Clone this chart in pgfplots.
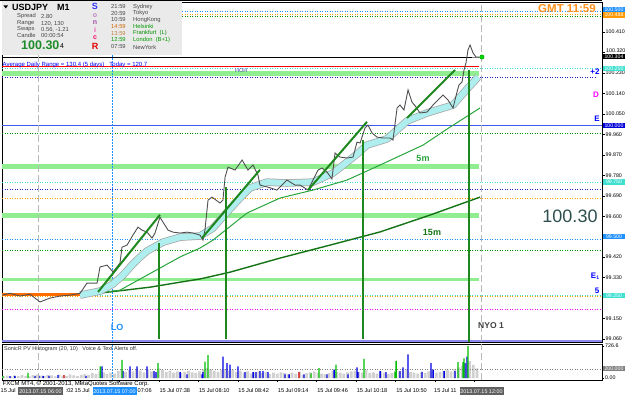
\documentclass[border=0pt]{standalone}
\usepackage{fontspec}
\setmainfont{Liberation Sans}
\usepackage{pgfplots}
\pgfplotsset{compat=1.18}
\definecolor{lgreen}{RGB}{144,238,144}
\definecolor{mgreen}{RGB}{40,165,60}
\definecolor{dgreen}{RGB}{20,115,20}
\definecolor{tgreen}{RGB}{30,135,30}
\definecolor{pcyan}{RGB}{175,238,238}
\definecolor{turq}{RGB}{64,224,208}
\definecolor{dodger}{RGB}{30,144,255}
\definecolor{royal}{RGB}{65,90,235}
\definecolor{navyb}{RGB}{30,30,200}
\definecolor{lav}{RGB}{140,140,240}
\definecolor{orng}{RGB}{255,165,0}
\definecolor{magen}{RGB}{255,0,255}
\definecolor{pricegr}{RGB}{80,80,80}
\definecolor{histgr}{RGB}{208,208,208}
\definecolor{panelgr}{RGB}{234,234,234}
\definecolor{gmtor}{RGB}{255,145,30}
\definecolor{bigsl}{RGB}{47,79,79}
\definecolor{pgreen}{RGB}{30,140,40}
\definecolor{txtgr}{RGB}{70,70,70}
\newcommand{\fs}[1]{\fontsize{#1}{#1}\selectfont}
\tikzset{dotlev/.style={line width=0.9pt, dash pattern=on 1.2pt off 1.3pt}}
\begin{document}
\begin{tikzpicture}
\path[use as bounding box] (0pt,0pt) rectangle (625pt,398pt);
\fill[white] (0pt,0pt) rectangle (625pt,398pt);
% ================= main price panel =================
\begin{axis}[
  at={(2pt,56pt)}, anchor=south west, scale only axis,
  width=600pt, height=340pt,
  xmin=-29.2, xmax=457.4, ymin=99.047, ymax=100.542,
  clip mode=individual,
  axis line style={black, line width=0.7pt},
  xtick=\empty,
  ytick={99.06,99.15,99.33,99.42,99.60,99.69,99.78,99.87,99.96,100.05,100.14,100.23,100.41},
  extra y ticks={100.32}, extra y tick labels={},
  ytick pos=right, yticklabel pos=right,
  tick align=outside, major tick length=2.5pt, tick style={black, line width=0.5pt},
  yticklabel style={font=\fs{5.3}, inner sep=1pt, /pgf/number format/.cd, fixed, fixed zerofill, precision=3, assume math mode=true},
]
% light green bands
\addplot[lgreen, line width=5pt] coordinates {(-29.2,100.227) (358,100.227)};
\addplot[lgreen, line width=5pt] coordinates {(-29.2,99.818) (358,99.818)};
\addplot[lgreen, line width=5pt] coordinates {(-29.2,99.605) (358,99.605)};
\addplot[lgreen, line width=3pt] coordinates {(-29.2,99.321) (358,99.321)};
% dotted levels
\addplot[dodger, dotlev] coordinates {(-29.2,100.500) (457.4,100.500)};
\addplot[orng, dotlev] coordinates {(-29.2,100.489) (457.4,100.489)};
\addplot[green!60!black, dotlev] coordinates {(-29.2,100.479) (457.4,100.479)};
\addplot[turq, dotlev] coordinates {(-29.2,100.250) (457.4,100.250)};
\addplot[navyb, dotlev] coordinates {(-29.2,100.212) (452,100.212)};
\addplot[green!60!black, dotlev] coordinates {(-29.2,99.964) (457.4,99.964)};
\addplot[turq, dotlev] coordinates {(-29.2,99.750) (457.4,99.750)};
\addplot[navyb, dotlev] coordinates {(-29.2,99.718) (457.4,99.718)};
\addplot[orng, dotlev] coordinates {(-29.2,99.679) (457.4,99.679)};
\addplot[dodger, dotlev] coordinates {(-29.2,99.497) (457.4,99.497)};
\addplot[green!60!black, dotlev] coordinates {(-29.2,99.451) (457.4,99.451)};
\addplot[orng, dotlev] coordinates {(-29.2,99.246) (457.4,99.246)};
\addplot[turq, dotlev] coordinates {(-29.2,99.251) (457.4,99.251)};
\addplot[magen, dotlev] coordinates {(-29.2,99.188) (457.4,99.188)};
% solid levels
\addplot[red, line width=1pt] coordinates {(-29.2,100.259) (358,100.259)};
\addplot[royal, line width=1pt] coordinates {(-29.2,100.000) (457.4,100.000)};
\addplot[lav, line width=2pt] coordinates {(-29.2,99.053) (457.4,99.053)};
% bid line
\addplot[black, line width=0.8pt] coordinates {(-29.2,100.300) (352,100.300)};
\addplot[gray, line width=0.8pt] coordinates {(352,100.300) (361,100.300)};
% session verticals
\addplot[gray!55, line width=1pt, dash pattern=on 7pt off 3pt] coordinates {(0,99.047) (0,100.542)};
\addplot[gray!55, line width=1pt, dash pattern=on 7pt off 3pt] coordinates {(360,99.047) (360,100.542)};
\addplot[dodger, line width=0.8pt, dash pattern=on 1.5pt off 1.5pt] coordinates {(60,99.047) (60,100.542)};
% 15m MA
\addplot[dgreen, line width=1.4pt] coordinates {(34.1,99.253) (50.3,99.262) (90.8,99.288) (115.2,99.310) (131.4,99.324) (155.7,99.354) (196.3,99.416) (236.8,99.473) (277.4,99.531) (317.9,99.605) (358.5,99.684)};
% 5m MA
\addplot[mgreen, line width=1pt] coordinates {(34.1,99.253) (66.5,99.275) (98.9,99.372) (115.2,99.421) (131.4,99.460) (141.9,99.495) (169.5,99.614) (196.3,99.680) (223.0,99.715) (250.6,99.759) (277.4,99.825) (312.3,99.913) (334.2,99.992) (358.5,100.076)};
% flat band at left
\addplot[orange!85!red, line width=2.5pt] coordinates {(-29.2,99.255) (34.1,99.255)};
% cyan dragon band
\addplot[gray!70, line width=7.5pt, line join=round] coordinates {(34.1,99.253) (50.3,99.271) (60.8,99.302) (68.9,99.341) (77.0,99.390) (82.7,99.420) (88.4,99.447) (101.4,99.486) (115.2,99.508) (131.4,99.513) (141.9,99.548) (153.3,99.618) (163.8,99.680) (171.9,99.724) (185.7,99.750) (201.9,99.746) (223.0,99.750) (239.3,99.790) (258.7,99.873) (266.8,99.913) (283.0,99.940) (299.3,100.019) (315.5,100.054) (336.6,100.089) (347.9,100.159) (356.9,100.212)};
\addplot[pcyan, line width=6pt, line join=round] coordinates {(34.1,99.253) (50.3,99.271) (60.8,99.302) (68.9,99.341) (77.0,99.390) (82.7,99.420) (88.4,99.447) (101.4,99.486) (115.2,99.508) (131.4,99.513) (141.9,99.548) (153.3,99.618) (163.8,99.680) (171.9,99.724) (185.7,99.750) (201.9,99.746) (223.0,99.750) (239.3,99.790) (258.7,99.873) (266.8,99.913) (283.0,99.940) (299.3,100.019) (315.5,100.054) (336.6,100.089) (347.9,100.159) (356.9,100.212)};
% price
\addplot[pricegr, line width=0.9pt] coordinates {(-29.2,99.253) (-22.7,99.261) (-14.6,99.249) (-6.5,99.257) (1.6,99.223) (9.7,99.240) (17.8,99.249) (26.0,99.253) (34.1,99.261) (39.7,99.306) (47.9,99.306) (50.3,99.377) (56.0,99.385) (60.8,99.355) (66.5,99.394) (68.1,99.464) (72.2,99.473) (77.0,99.517) (81.1,99.552) (84.3,99.539) (88.4,99.530) (92.5,99.504) (94.9,99.526) (98.9,99.596) (101.4,99.574) (105.4,99.539) (109.5,99.530) (115.2,99.526) (120.8,99.530) (125.7,99.526) (131.4,99.517) (133.8,99.495) (135.4,99.539) (137.9,99.671) (141.1,99.684) (147.6,99.658) (150.0,99.671) (151.7,99.772) (154.1,99.816) (159.8,99.803) (165.5,99.847) (170.3,99.803) (174.4,99.825) (178.4,99.781) (180.0,99.737) (186.5,99.728) (193.8,99.715) (201.9,99.759) (208.4,99.737) (212.5,99.737) (219.0,99.715) (227.1,99.803) (230.3,99.812) (234.4,99.794) (238.4,99.764) (240.9,99.878) (244.9,99.860) (250.6,99.856) (255.5,99.860) (258.7,99.926) (261.2,99.922) (265.2,99.988) (267.6,100.001) (270.9,99.966) (274.9,99.948) (279.8,99.944) (285.5,99.944) (287.9,99.935) (291.2,100.076) (293.6,100.089) (296.8,100.067) (300.1,100.155) (303.3,100.102) (306.6,100.080) (309.8,100.054) (315.5,100.058) (320.4,100.089) (324.4,100.111) (328.5,100.133) (332.5,100.111) (336.6,100.076) (339.8,100.146) (341.4,100.177) (343.9,100.190) (345.5,100.243) (347.1,100.274) (348.7,100.331) (350.4,100.353) (352.8,100.318) (355.2,100.300) (357.7,100.300)};
% trend lines
\addplot[tgreen, line width=2pt] coordinates {(48.7,99.267) (98.9,99.606)};
\addplot[tgreen, line width=2pt] coordinates {(133.0,99.504) (180.0,99.804)};
\addplot[tgreen, line width=2pt] coordinates {(219.0,99.715) (266.8,100.015)};
\addplot[tgreen, line width=2pt] coordinates {(299.3,100.032) (338.2,100.243)};
% vertical markers
\addplot[tgreen, line width=2pt] coordinates {(98.1,99.482) (98.1,99.060)};
\addplot[tgreen, line width=2pt] coordinates {(152.5,99.728) (152.5,99.060)};
\addplot[tgreen, line width=2pt] coordinates {(263.6,99.935) (263.6,99.060)};
\addplot[tgreen, line width=2pt] coordinates {(349.6,100.243) (349.6,99.047)};
% current price dot
\addplot[only marks, mark=*, mark size=2.2pt, mark options={fill=green!85!black, draw=green!60!black}] coordinates {(360,100.300)};
\end{axis}
% ================= histogram panel =================
\begin{axis}[
  at={(2pt,18pt)}, anchor=south west, scale only axis,
  width=600pt, height=36pt,
  xmin=-29.2, xmax=457.4, ymin=-44, ymax=770,
  clip mode=individual,
  axis line style={black, line width=0.7pt},
  xtick={2,34,66,98,130,162,194,226,258,290,322,354},
  xticklabels={,,,15 Jul 07:38,15 Jul 08:10,15 Jul 08:42,15 Jul 09:14,15 Jul 09:46,15 Jul 10:18,15 Jul 10:50,,},
  xtick pos=bottom,
  xticklabel style={anchor=north west, font=\fs{5.6}, inner sep=0pt, yshift=-6pt, xshift=0.5pt},
  ytick={0,726.6}, yticklabels={0.00,726.6},
  ytick pos=right, yticklabel pos=right,
  yticklabel style={font=\fs{5.3}, inner sep=1pt},
  tick align=outside, major tick length=2pt, tick style={black, line width=0.5pt},
]
\addplot[ybar, bar width=2.8pt, bar shift=0pt, fill=histgr, draw=none] coordinates {
(-28,40) (-25,55) (-22,35) (-19,60) (-16,45) (-13,70) (-10,50) (-7,40) (-4,65) (-1,80) (2,55) (5,45) (8,70) (11,60) (14,40) (17,75) (20,55) (23,50) (26,85) (29,60) (32,45) (35,70) (38,90) (41,65) (44,110) (47,95) (50,150) (53,130) (56,90) (59,120) (62,100) (65,160) (68,200) (71,140) (74,180) (77,150) (80,210) (83,170) (86,130) (89,190) (92,150) (95,120) (98,220) (101,180) (104,140) (107,170) (110,120) (113,150) (116,110) (119,140) (122,160) (125,130) (128,110) (131,150) (134,200) (137,230) (140,190) (143,160) (146,140) (149,180) (152,210) (155,170) (158,190) (161,140) (164,160) (167,120) (170,150) (173,100) (176,130) (179,150) (182,110) (185,140) (188,90) (191,120) (194,100) (197,130) (200,110) (203,90) (206,120) (209,100) (212,140) (215,80) (218,110) (221,130) (224,150) (227,120) (230,100) (233,90) (236,110) (239,160) (242,140) (245,120) (248,100) (251,130) (254,150) (257,170) (260,140) (263,120) (266,180) (269,110) (272,130) (275,100) (278,150) (281,120) (284,90) (287,110) (290,160) (293,150) (296,170) (299,200) (302,140) (305,120) (308,100) (311,130) (314,110) (317,150) (320,170) (323,120) (326,140) (329,160) (332,190) (335,150) (338,210) (341,240) (344,280) (347,330) (350,380) (353,300) (356,220)};
\addplot[gray, line width=0.6pt, dash pattern=on 1pt off 1.5pt] coordinates {(-29.2,200) (457.4,200)};
\addplot[ybar, bar width=1.4pt, bar shift=0pt, fill=blue!90!black, draw=none] coordinates {
(-22.7,44) (-18.7,44) (-2.4,44) (0.8,51) (4.1,51) (8.9,51) (16.2,66) (38.9,44) (51.9,264) (68.9,154) (74.6,264) (80.3,264) (88.4,264) (94.1,154) (95.7,132) (115.2,132) (120.8,81) (133.0,81) (133.8,132) (150.0,484) (153.3,337) (155.7,301) (162.2,264) (167.9,132) (174.4,132) (176.8,132) (180.0,154) (182.5,154) (186.5,132) (200.3,81) (203.6,81) (215.7,81) (234.4,81) (240.1,191) (251.4,81) (258.7,242) (259.5,132) (277.4,154) (282.2,132) (293.6,154) (296.0,242) (300.1,535) (311.4,139) (318.7,337) (320.4,191) (329.3,154) (338.2,154) (346.3,337) (347.9,484)};
\addplot[ybar, bar width=1.4pt, bar shift=0pt, fill=green!75!black, draw=none] coordinates {
(-28.4,44) (-8.1,117) (50.6,264) (68.1,411) (97.3,337) (135.4,374) (137.9,521) (221.4,103) (227.9,227) (241.7,301) (264.4,433) (289.5,132) (290.4,389) (340.6,359) (344.7,359) (345.5,447) (348.7,726)};
\addplot[ybar, bar width=1.4pt, bar shift=0pt, fill=red!85!black, draw=none] coordinates {(21.1,66) (211.7,132)};
\addplot[gray!55, line width=1pt, dash pattern=on 7pt off 3pt] coordinates {(0,-44) (0,770)};
\addplot[gray!55, line width=1pt, dash pattern=on 7pt off 3pt] coordinates {(360,-44) (360,770)};
\addplot[dodger, line width=0.8pt, dash pattern=on 1.5pt off 1.5pt] coordinates {(60,-44) (60,770)};
\end{axis}
% ================= overlays: text =================
% info panel
\fill[panelgr] (2pt,343pt) rectangle (182pt,397pt);
\draw[black, line width=0.7pt] (0pt,397.5pt) -- (602pt,397.5pt);
\fill[black] (3.5pt,392.5pt) -- (8pt,392.5pt) -- (5.75pt,389.5pt) -- cycle;
\node[anchor=west, font=\fs{9}\bfseries, inner sep=0pt] at (12pt,391pt) {USDJPY};
\node[anchor=west, font=\fs{9}\bfseries, inner sep=0pt] at (57pt,391pt) {M1};
\begin{scope}[every node/.style={anchor=west, inner sep=0pt, font=\fs{5.8}, text=txtgr}]
\node at (17pt,381.5pt) {Spread};  \node at (41pt,381.5pt) {2.80};
\node at (17pt,374.5pt) {Range};   \node at (41pt,374.5pt) {120, 130};
\node at (17pt,368.5pt) {Swaps};   \node at (41pt,368.5pt) {0.56, -1.21};
\node at (17pt,362.5pt) {Candle};  \node at (41pt,362.5pt) {00:00:54};
\node at (111pt,391.3pt) {21:59};  \node at (133pt,391.3pt) {Sydney};
\node at (111pt,384.7pt) {20:59};  \node at (133pt,384.7pt) {Tokyo};
\node at (111pt,378pt) {10:59};    \node at (133pt,378pt) {HongKong};
\node[text=orange!80!black] at (111pt,371.3pt) {14:59};  \node[text=green!60!black] at (133pt,371.3pt) {Helsinki};
\node[text=brown] at (111pt,364.7pt) {13:59};  \node[text=green!55!black] at (133pt,364.7pt) {Frankfurt\ \ (L)};
\node[text=green!60!black] at (111pt,358pt) {12:59};  \node[text=green!60!black] at (133pt,358pt) {London\ \ (B+1)};
\node at (111pt,351pt) {07:59};    \node at (133pt,351pt) {NewYork};
\end{scope}
\node[anchor=west, inner sep=0pt, font=\fs{12.5}\bfseries, text=pgreen] at (21pt,353pt) {100.30};
\node[anchor=west, inner sep=0pt, font=\fs{7}, text=black] at (60pt,351.5pt) {4};
\begin{scope}[every node/.style={inner sep=0pt}]
\node[font=\fs{9}\bfseries, text=blue!80!white] at (95pt,391.3pt) {S};
\node[font=\fs{7}\bfseries, text=violet!50!white] at (95pt,382.5pt) {o};
\node[font=\fs{7}\bfseries, text=violet!70!white] at (95pt,375pt) {n};
\node[font=\fs{7}\bfseries, text=magenta!70!white] at (95pt,368pt) {i};
\node[font=\fs{7}\bfseries, text=red!60!magenta] at (95pt,360.5pt) {c};
\node[font=\fs{9}\bfseries, text=red!90!black] at (95pt,351.3pt) {R};
\end{scope}
% chart labels
\node[anchor=west, inner sep=0pt, font=\fs{6}, text=blue] at (2.5pt,333pt) {Average Daily Range = 130.4 (5 days)\ \ \ Today = 120.7};
\node[anchor=west, inner sep=0pt, font=\fs{5.5}, text=blue!40!gray] at (235pt,327pt) {HOH};
\node[inner sep=0pt, font=\fs{11.5}\bfseries, text=gmtor] at (567pt,389pt) {GMT\ 11:59};
\node[inner sep=0pt, font=\fs{8}\bfseries, text=blue] at (595pt,326pt) {+2};
\node[inner sep=0pt, font=\fs{8}\bfseries, text=magen] at (596pt,303pt) {D};
\node[inner sep=0pt, font=\fs{8}\bfseries, text=blue] at (597pt,279pt) {E};
\node[inner sep=0pt, font=\fs{8}\bfseries, text=blue] at (595pt,122pt) {E\raisebox{-1pt}{\fs{5}1}};
\node[inner sep=0pt, font=\fs{8}\bfseries, text=blue] at (597pt,107pt) {5};
\node[inner sep=0pt, font=\fs{18}, text=bigsl] at (570pt,182pt) {100.30};
\node[inner sep=0pt, font=\fs{9}\bfseries, text=mgreen] at (423pt,240pt) {5m};
\node[inner sep=0pt, font=\fs{9}\bfseries, text=dgreen] at (432pt,166pt) {15m};
\node[inner sep=0pt, font=\fs{9}\bfseries, text=dodger] at (117pt,71pt) {LO};
\node[inner sep=0pt, font=\fs{8.5}\bfseries, text=black!75] at (491pt,72pt) {NYO 1};
% price scale label partly covered in the original
\node[anchor=south west, inner sep=0pt, font=\fs{5.3}] at (606pt,344.8pt) {100.320};
% histogram header and copyright
\node[anchor=west, inner sep=0pt, font=\fs{5.5}, text=black!80] at (4pt,49pt) {SonicR PV Histogram (20, 10)\ \ \ Voice \& Text Alerts off.};
\node[anchor=west, inner sep=0pt, font=\fs{6}, text=black] at (2.5pt,14.5pt) {FXCM MT4, \textcopyright\ 2001-2013, MetaQuotes Software Corp.};
% partly hidden time labels
\begin{scope}[every node/.style={anchor=north west, inner sep=0pt, font=\fs{5.6}}]
\node at (0.5pt,9.5pt) {15 Jul};
\node at (65.5pt,9.5pt) {:02};
\node at (74.5pt,9.5pt) {15 Jul};
\node at (137.5pt,9.5pt) {07:06};
\node at (434pt,9.5pt) {15 Jul 11};
\end{scope}
% time axis highlight boxes
\begin{scope}[every node/.style={inner sep=0.4pt, font=\fs{5.4}, text=white, minimum height=8pt}]
\node[fill=gray!75!black, minimum width=45pt] at (40.5pt,6.5pt) {2013.07.15 06:00};
\node[fill=dodger, minimum width=44pt] at (114.5pt,6.5pt) {2013.07.15 07:00};
\node[fill=gray!75!black, minimum width=44pt] at (481.5pt,6.5pt) {2013.07.15 12:00};
\end{scope}
% price scale boxes
\begin{scope}[every node/.style={inner sep=0.3pt, font=\fs{5.2}, text=white, minimum width=22pt, minimum height=5.5pt}]
\node[fill=dodger] at (614pt,388.7pt) {100.500};
\node[fill=orange!80!yellow] at (614pt,382.8pt) {100.488};
\node[fill=black] at (614pt,341.5pt) {100.304};
\node[fill=turq] at (614pt,329.5pt) {100.250};
\node[fill=blue!85!black] at (614pt,272.5pt) {100.000};
\node[fill=turq] at (614pt,216pt) {99.750};
\node[fill=dodger] at (614pt,161.5pt) {99.500};
\node[fill=turq] at (614pt,102.5pt) {99.250};
\node[fill=gray] at (614pt,29.5pt) {200.000};
\end{scope}
\end{tikzpicture}
\end{document}
